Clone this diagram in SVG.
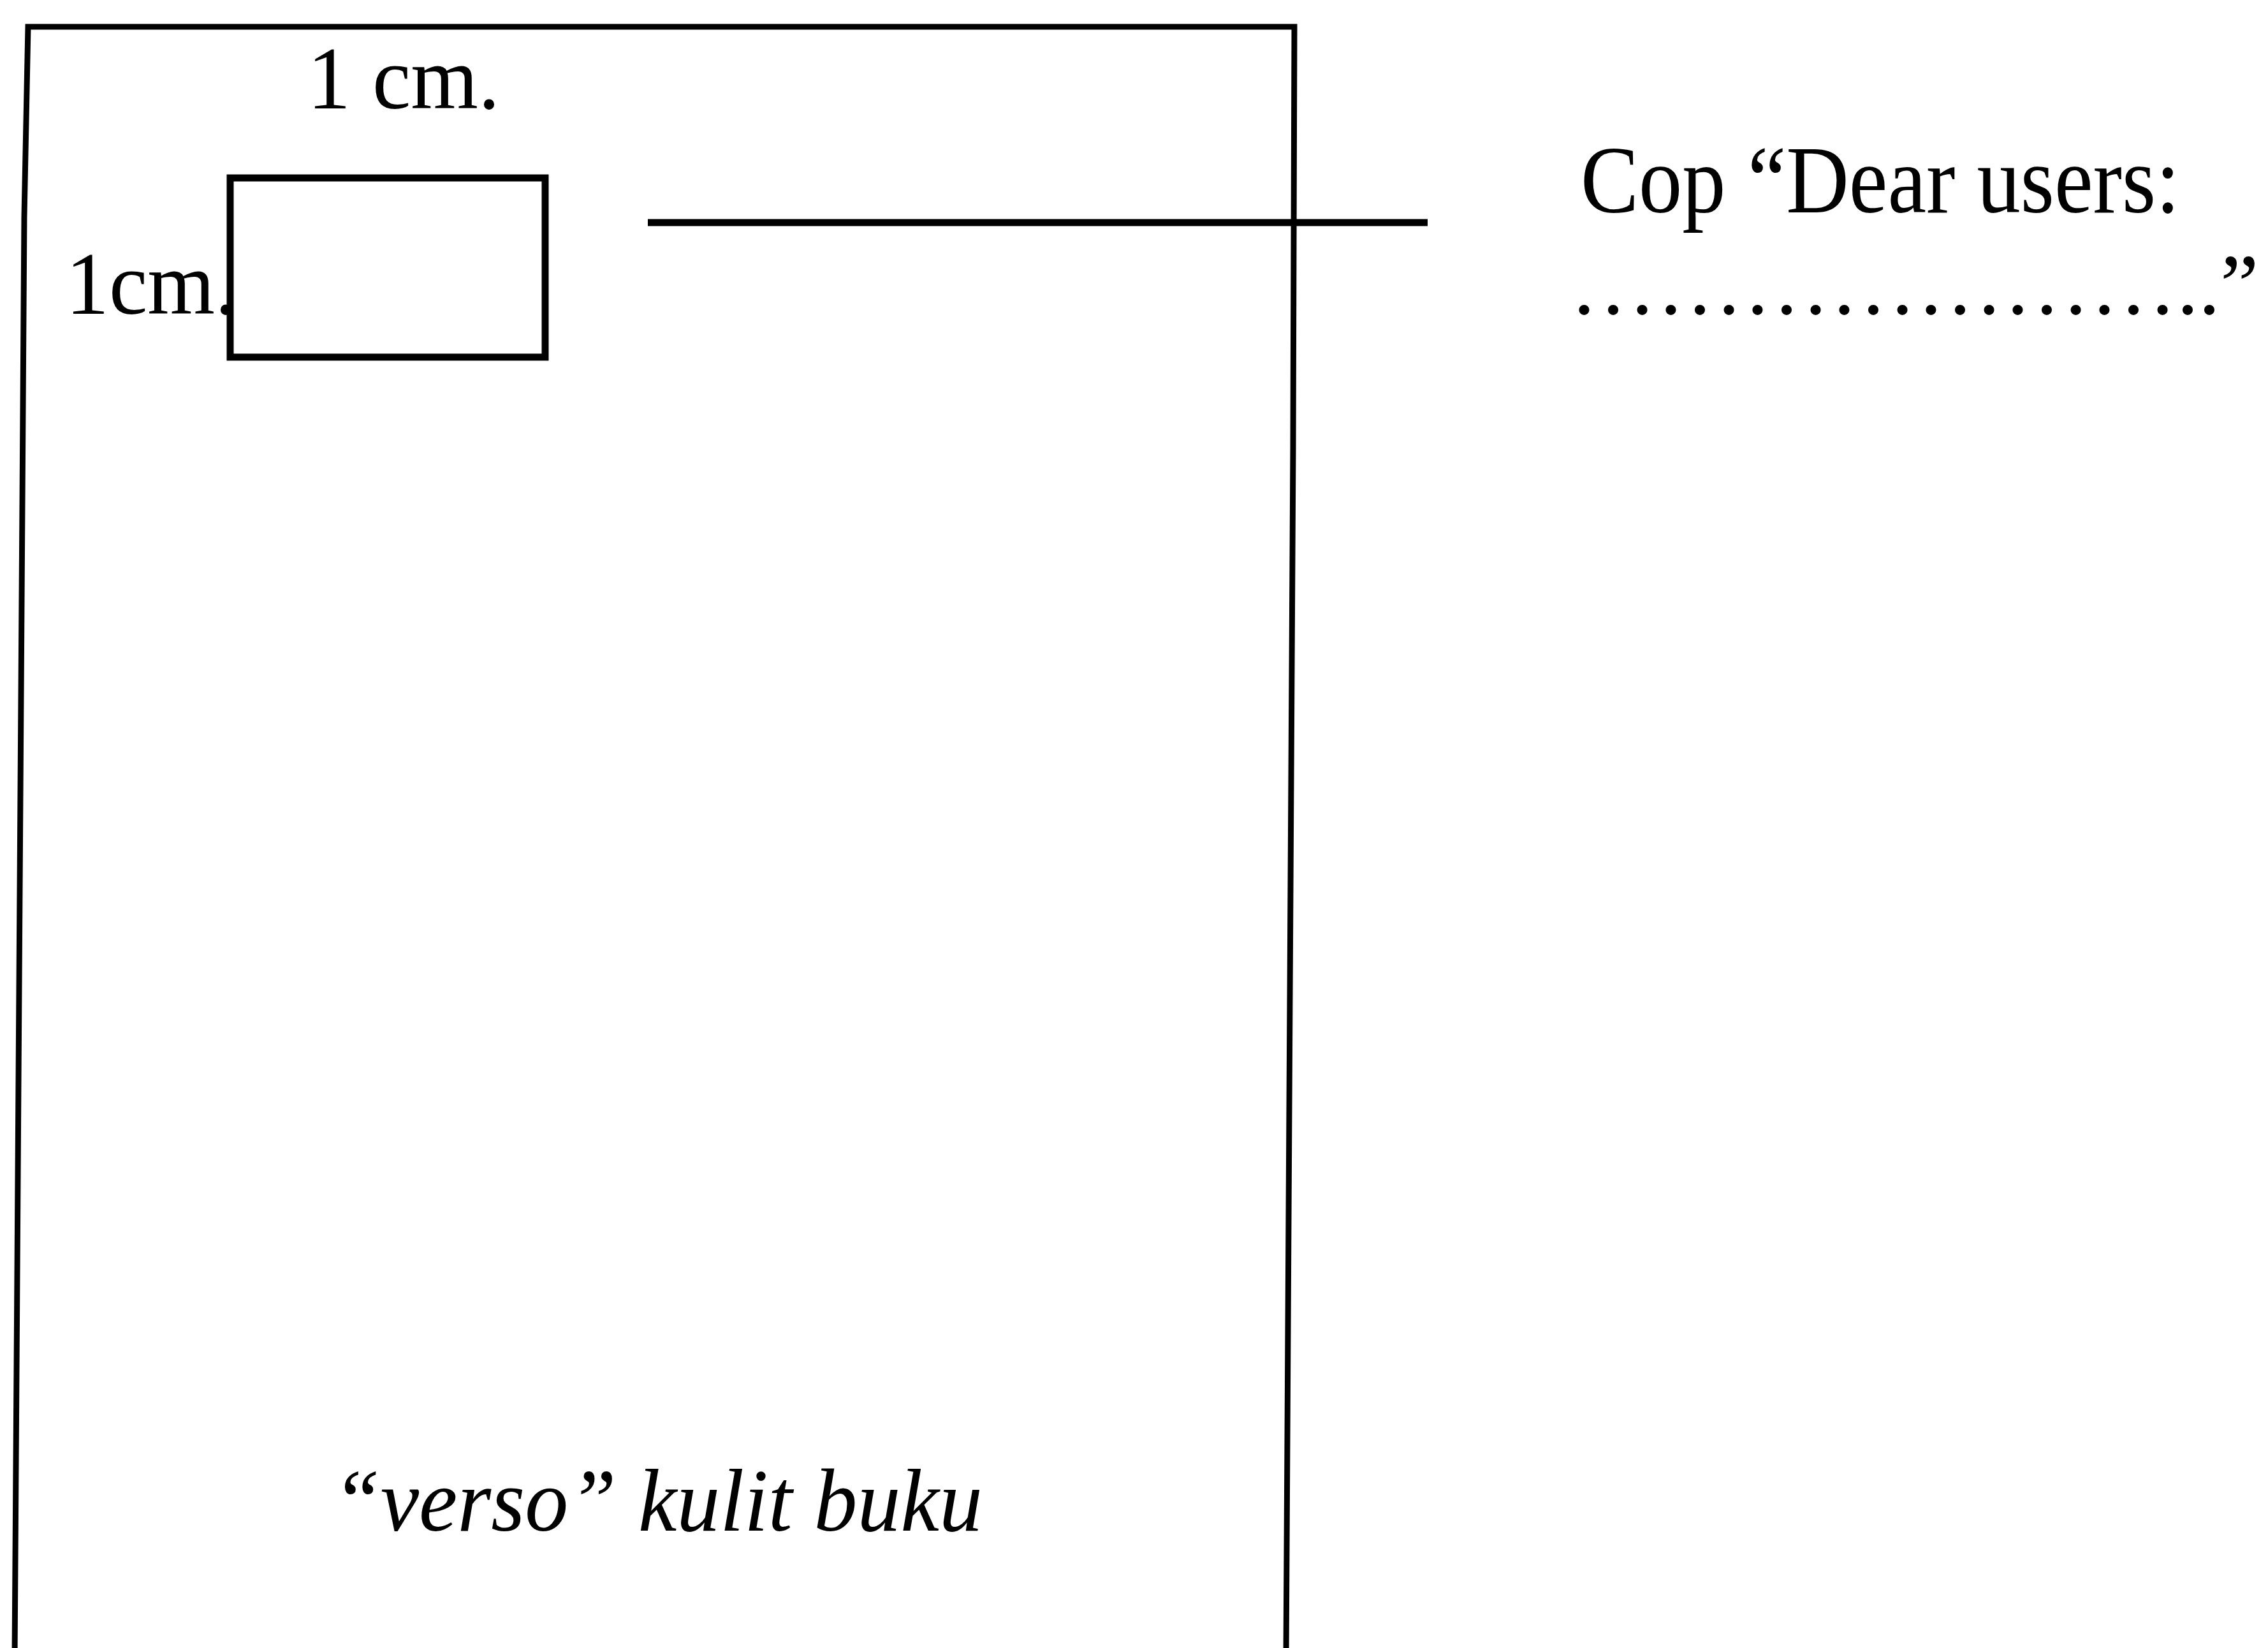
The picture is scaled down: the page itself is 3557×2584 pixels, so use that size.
<svg xmlns="http://www.w3.org/2000/svg" width="3557" height="2584" viewBox="0 0 3557 2584">
  <style>
    .ink { fill: none; stroke: #000; stroke-linejoin: miter; }
    .frame { stroke-width: 9; }
    .box { stroke-width: 11; }
    .lead { stroke-width: 11; stroke-linecap: butt; }
    .lbl { font-family: "Liberation Serif", "Times New Roman", serif; fill: #000; }
    .small { font-size: 140px; }
    .big { font-size: 150px; }
    .dots { font-size: 136px; }
    .it { font-style: italic; }
  </style>

  <rect x="0" y="0" width="3557" height="2584" fill="#fff"/>

  <!-- book cover outline (bottom edge runs past the page) -->
  <g id="cover">
    <path class="ink frame" d="M 23 2600 L 38 340 L 44 42 L 2030 42 L 2028 700 L 2017 2600"/>
    <text class="lbl it small" x="521" y="2400" textLength="1020" lengthAdjust="spacingAndGlyphs">“verso” kulit buku</text>
  </g>

  <!-- stamp position, 1 cm from top and left edges -->
  <g id="stamp">
    <rect class="ink box" x="361" y="279" width="494" height="281"/>
    <text class="lbl small" x="482" y="170" textLength="302" lengthAdjust="spacingAndGlyphs">1 cm.</text>
    <text class="lbl small" x="103" y="492" textLength="268" lengthAdjust="spacingAndGlyphs">1cm.</text>
  </g>

  <!-- stamp wording -->
  <g id="stamp-text">
    <text class="lbl big" x="2479" y="333" textLength="940" lengthAdjust="spacingAndGlyphs">Cop “Dear users:</text>
    <text class="lbl dots" x="2462" y="492">…………………..”</text>
  </g>

  <g id="connectors">
    <line class="ink lead" x1="1016" y1="349" x2="2239" y2="349"/>
  </g>
</svg>
